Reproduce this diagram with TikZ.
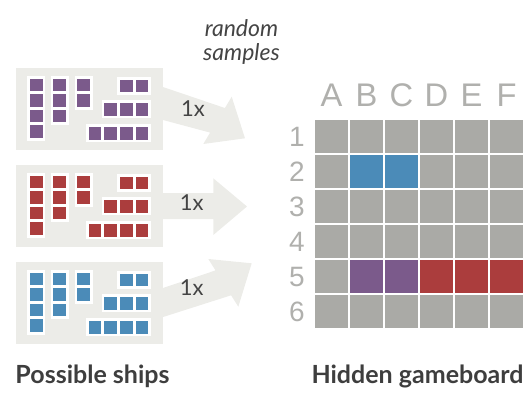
\documentclass[tikz,border=0pt]{standalone}
\usepackage{fontspec}
\setmainfont{Liberation Sans}
\newfontfamily\latofont{Lato}
\definecolor{panelc}{HTML}{ECECE8}
\definecolor{gridc}{HTML}{AAAAA6}
\definecolor{labc}{HTML}{B0B0AD}
\definecolor{txtc}{HTML}{444444}
\definecolor{boldc}{HTML}{3E3E3E}
\definecolor{shpurple}{HTML}{7B5A8B}
\definecolor{shred}{HTML}{AB3D3D}
\definecolor{shblue}{HTML}{4B8BB8}
\newcommand\myshipV[4]{%
  \fill[white] ({#1-2.7},{#2-2.7}) rectangle ({#1+15.4},{#2+(#3-1)*15.6+15.4});
  \foreach \k in {1,...,#3} {\fill[#4] ({#1},{#2+(\k-1)*15.6}) rectangle +(12.7,12.7);}
}
\newcommand\myshipH[4]{%
  \fill[white] ({#1-2.7},{#2-2.7}) rectangle ({#1+(#3-1)*15.6+15.4},{#2+15.4});
  \foreach \k in {1,...,#3} {\fill[#4] ({#1+(\k-1)*15.6},{#2}) rectangle +(12.7,12.7);}
}
\tikzset{
  collab/.style={font=\fontsize{32.7}{36}\selectfont, text=labc, inner sep=0pt, anchor=base},
  rowlab/.style={font=\fontsize{28}{30}\selectfont, text=labc, inner sep=0pt, anchor=center},
  multlab/.style={font=\latofont\fontsize{22}{24}\selectfont, text=txtc, inner sep=0pt, anchor=base},
  randlab/.style={font=\latofont\itshape\fontsize{23}{26}\selectfont, text=txtc, inner sep=0pt, anchor=base},
  titlelab/.style={font=\latofont\bfseries\fontsize{25}{28}\selectfont, text=boldc, inner sep=0pt, anchor=base},
}
\begin{document}
\begin{tikzpicture}[x=1pt,y=-1pt]
\useasboundingbox (0,0) rectangle (532,394);
% arrows
\fill[panelc] (160,86) -- (224.9,108) -- (231.7,96.7) -- (245,138.3) -- (203.3,144) -- (210.1,132.6) -- (160,119.2) -- cycle;
\fill[panelc] (160,193) -- (213.3,193) -- (213.3,178.3) -- (247,206.5) -- (213.3,235) -- (213.3,219) -- (160,219) -- cycle;
\fill[panelc] (160,289) -- (215.5,270.4) -- (208.3,259) -- (251.7,263.3) -- (238.3,306.7) -- (231.1,295.3) -- (160,318) -- cycle;
% panels with ships
\foreach \T/\c in {68/shpurple,165/shred,262/shblue} {
  \fill[panelc] (16,\T) rectangle (163,{\T+82});
  \myshipV{30}{\T+10.5}{4}{\c}
  \myshipV{53.3}{\T+10.5}{3}{\c}
  \myshipV{77.3}{\T+10.5}{2}{\c}
  \myshipH{120}{\T+11.5}{2}{\c}
  \myshipH{104.3}{\T+35}{3}{\c}
  \myshipH{88.7}{\T+59}{4}{\c}
}
% grid
\foreach \i in {0,...,5} {
  \foreach \j in {0,...,5} {
    \fill[gridc] ({314+35*\i+0.6},{119+35*\j+0.6}) rectangle +(33.8,33.8);
  }
}
\foreach \i/\j/\c in {1/1/shblue,2/1/shblue,1/4/shpurple,2/4/shpurple,3/4/shred,4/4/shred,5/4/shred} {
  \fill[\c] ({314+35*\i+0.6},{119+35*\j+0.6}) rectangle +(33.8,33.8);
}
% column and row labels
\foreach \L [count=\n from 0] in {A,B,C,D,E,F} {
  \node[collab] (col\L) at ({331.5+35*\n},106.7) {\L};
}
\foreach \n in {1,...,6} {
  \node[rowlab] (row\n) at (297,{136.5+35*(\n-1)}) {\n};
}
% texts
\node[randlab] (rs1) at (241.5,36.7) {random};
\node[randlab] (rs2) at (241.5,60.5) {samples};
\node[multlab] (m1) at (193,116) {1x};
\node[multlab] (m2) at (191.7,210.7) {1x};
\node[multlab] (m3) at (191.7,295.7) {1x};
\node[titlelab] (ships) at (92.5,383) {Possible ships};
\node[titlelab] (board) at (417.5,383) {Hidden gameboard};
\end{tikzpicture}
\end{document}
